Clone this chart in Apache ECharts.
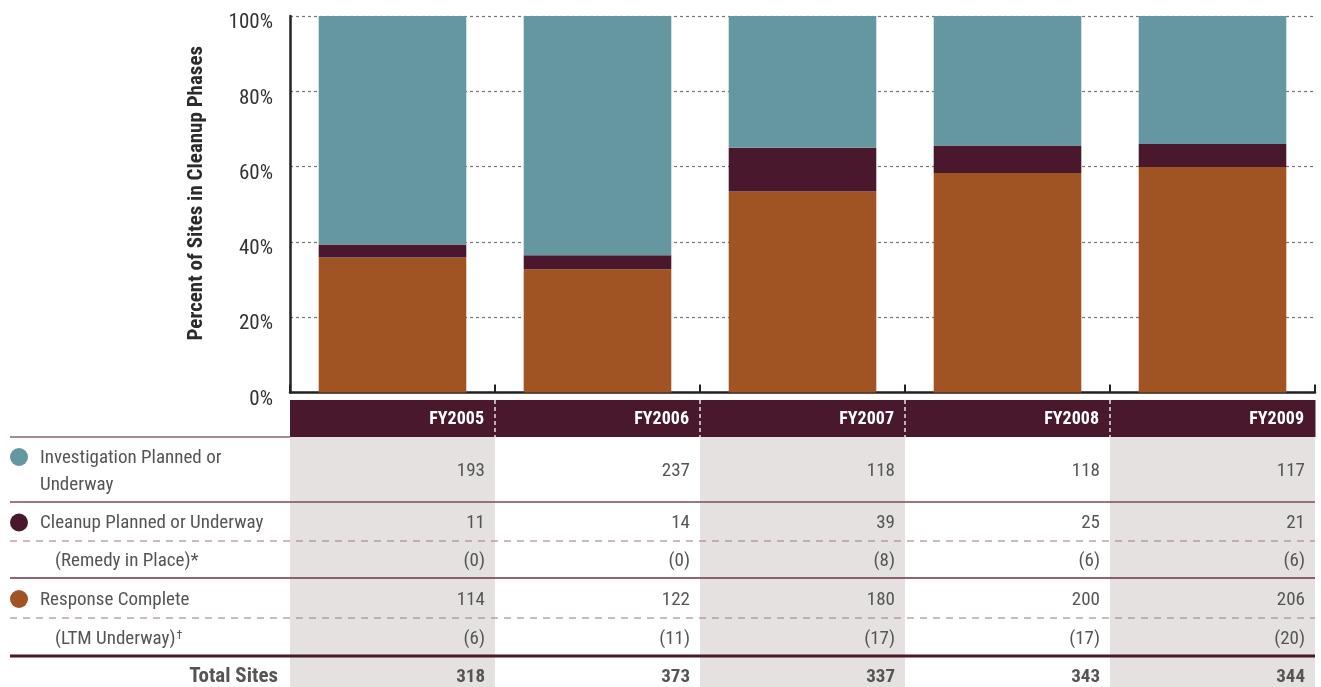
<!DOCTYPE html>
<html>
<head>
<meta charset="utf-8">
<script src="https://cdn.jsdelivr.net/npm/echarts@6/dist/echarts.min.js"></script>
<style>
html,body{margin:0;padding:0;background:#fff;}
#chart{width:1321px;height:687px;}
</style>
</head>
<body>
<div id="chart"></div>
<script>
// ---------- DATA ----------
const years = ['FY2005', 'FY2006', 'FY2007', 'FY2008', 'FY2009'];
const investigation = [193, 237, 118, 118, 117];
const cleanup = [11, 14, 39, 25, 21];
const remedyInPlace = [0, 0, 8, 6, 6];
const responseComplete = [114, 122, 180, 200, 206];
const ltmUnderway = [6, 11, 17, 17, 20];
const totalSites = [318, 373, 337, 343, 344];
const yTicks = [0, 20, 40, 60, 80, 100];
const rowLabels = ['Investigation Planned or\nUnderway', 'Cleanup Planned or Underway', '(Remedy in Place)*', 'Response Complete', '(LTM Underway)', 'Total Sites'];
const seriesNames = ['Response Complete', 'Cleanup Planned or Underway', 'Investigation Planned or Underway'];

// ---------- STYLE / LAYOUT ----------
const FONT = "'Liberation Sans Narrow', 'Roboto Condensed', 'DejaVu Sans Condensed', sans-serif";
const C_TEAL = '#64979F';
const C_MAROON = '#4A182C';
const C_BROWN = '#A05423';
const C_SHADE = '#E5E1E1';
const C_TEXT = '#555555';
const ROW_H = [37, 65, 39, 37, 40, 38, 31]; // header + 6 rows (last row cut by the page edge)
const LAST_ROW_TEXT_SHIFT = 3.5;
const rowStart = [0];
ROW_H.forEach((h, i) => rowStart.push(rowStart[i] + h));
const TABLE_H = rowStart[rowStart.length - 1];

const tableRows = [investigation, cleanup, remedyInPlace, responseComplete, ltmUnderway, totalSites];
const rowKind = ['main', 'main', 'sub', 'main', 'sub', 'total'];
const rowColor = [C_TEAL, C_MAROON, null, C_BROWN, null, null];
const rowSuffix = ['', '', '', '', '\u2020', ''];
const ruleStyle = [
  { stroke: '#A88A95', lineWidth: 2, left: true },
  { stroke: '#7A4B5A', lineWidth: 1.5 },
  { stroke: '#9B7886', lineWidth: 1.2, lineDash: [7, 6] },
  { stroke: '#6A3347', lineWidth: 1.5 },
  { stroke: '#9B7886', lineWidth: 1.2, lineDash: [7, 6] },
  { stroke: C_MAROON, lineWidth: 3 },
  null
];

const pct = (arr) => arr.map((v, i) => v / totalSites[i] * 100);

const cellData = [];
for (let r = 0; r < ROW_H.length; r++) {
  for (let c = 0; c < years.length; c++) cellData.push([c, r]);
}

function cellText(r, c) {
  if (r === 0) return years[c];
  const v = tableRows[r - 1][c];
  return rowKind[r - 1] === 'sub' ? '(' + v + ')' : String(v);
}

const chart = echarts.init(document.getElementById('chart'), null, { renderer: 'canvas' });

const option = {
  animation: false,
  backgroundColor: '#fff',
  grid: [
    { left: 290, right: 6, top: 16, height: 376.5, containLabel: false },
    { left: 290, right: 6, top: 400, height: TABLE_H, containLabel: false }
  ],
  xAxis: [
    {
      type: 'category', gridIndex: 0, data: years,
      axisLine: { show: true, lineStyle: { color: '#222', width: 2.5 } },
      axisTick: { show: true, inside: true, length: 8, lineStyle: { color: '#222', width: 2 } },
      axisLabel: { show: false },
      splitLine: { show: false }
    },
    {
      type: 'category', gridIndex: 1, data: years, show: false
    }
  ],
  yAxis: [
    {
      type: 'value', gridIndex: 0, min: 0, max: 100, interval: 20,
      name: 'Percent of Sites in Cleanup Phases',
      nameLocation: 'middle', nameRotate: 90, nameGap: 83,
      nameTextStyle: { fontFamily: FONT, fontWeight: 'bold', fontSize: 21, color: '#2b2b2b', padding: [0, 0, 0, 22] },
      axisLine: { show: true, lineStyle: { color: '#222', width: 2.5 } },
      axisTick: { show: false },
      axisLabel: {
        fontFamily: FONT, fontSize: 21, color: '#333', margin: 17,
        verticalAlign: 'top', lineHeight: 14,
        customValues: yTicks,
        formatter: (v) => v + '%'
      },
      splitLine: { show: true, lineStyle: { color: '#777', width: 1.2, type: [3, 3] } }
    },
    {
      type: 'value', gridIndex: 1, min: 0, max: TABLE_H, inverse: true, show: false
    }
  ],
  series: [
    {
      name: seriesNames[0], type: 'bar', stack: 'all', xAxisIndex: 0, yAxisIndex: 0,
      barWidth: '72%', itemStyle: { color: C_BROWN }, data: pct(responseComplete)
    },
    {
      name: seriesNames[1], type: 'bar', stack: 'all', xAxisIndex: 0, yAxisIndex: 0,
      barWidth: '72%', itemStyle: { color: C_MAROON }, data: pct(cleanup)
    },
    {
      name: seriesNames[2], type: 'bar', stack: 'all', xAxisIndex: 0, yAxisIndex: 0,
      barWidth: '72%', itemStyle: { color: C_TEAL }, data: pct(investigation)
    },
    {
      type: 'custom', xAxisIndex: 1, yAxisIndex: 1, z: 1, silent: true,
      data: years.map((y, c) => [c]).filter(d => d[0] % 2 === 0),
      renderItem: (params, api) => {
        const c = api.value(0);
        const bw = api.size([1, 0])[0];
        const cx = api.coord([c, 0])[0];
        const top = api.coord([c, rowStart[1]])[1];
        const bot = api.coord([c, TABLE_H])[1];
        return { type: 'rect', shape: { x: cx - bw / 2, y: top, width: bw, height: bot - top }, style: { fill: C_SHADE } };
      }
    },
    {
      type: 'custom', xAxisIndex: 1, yAxisIndex: 1, z: 3, silent: true,
      data: cellData,
      renderItem: (params, api) => {
        const c = api.value(0), r = api.value(1);
        const cs = params.coordSys;
        const bw = api.size([1, 0])[0];
        const cx = api.coord([c, 0])[0];
        const top = api.coord([c, rowStart[r]])[1];
        const bot = api.coord([c, rowStart[r + 1]])[1];
        const cy = (top + bot) / 2 + (r === ROW_H.length - 1 ? LAST_ROW_TEXT_SHIFT : 0);
        const right = cx + bw / 2;
        const children = [];
        if (r === 0) {
          children.push({ type: 'rect', shape: { x: cx - bw / 2, y: top, width: bw + 0.5, height: bot - top }, style: { fill: C_MAROON } });
          if (c < years.length - 1) {
            children.push({ type: 'line', shape: { x1: right, y1: top, x2: right, y2: bot }, style: { stroke: '#fff', lineWidth: 1.3, lineDash: [4, 3] }, z2: 2 });
          }
          children.push({ type: 'text', x: right - 11, y: cy + 1, style: { text: cellText(r, c), fill: '#fff', font: 'bold 18px ' + FONT, align: 'right', verticalAlign: 'middle' }, z2: 3 });
        } else {
          const bold = rowKind[r - 1] === 'total';
          children.push({ type: 'text', x: right - 10, y: cy + 2, style: { text: cellText(r, c), fill: C_TEXT, font: (bold ? 'bold ' : '') + '19px ' + FONT, align: 'right', verticalAlign: 'middle' }, z2: 3 });
        }
        if (c === 0) {
          const rs = ruleStyle[r];
          if (rs) {
            const x1 = cs.x - 280;
            const x2 = rs.left ? cs.x : cs.x + cs.width;
            children.push({ type: 'line', shape: { x1: x1, y1: bot, x2: x2, y2: bot }, style: { stroke: rs.stroke, lineWidth: rs.lineWidth, lineDash: rs.lineDash || null }, z2: 1 });
          }
          if (r > 0) {
            const kind = rowKind[r - 1];
            const label = rowLabels[r - 1];
            const nLines = label.split('\n').length;
            const lh = 27;
            const firstY = cy - (nLines - 1) * lh / 2 + 2;
            if (rowColor[r - 1]) {
              children.push({ type: 'circle', shape: { cx: cs.x - 271, cy: firstY - 1, r: 9 }, style: { fill: rowColor[r - 1] } });
            }
            if (kind === 'total') {
              children.push({ type: 'text', x: cs.x - 12, y: cy + 2, style: { text: label, fill: C_TEXT, font: 'bold 21px ' + FONT, align: 'right', verticalAlign: 'middle' } });
            } else {
              const lx = kind === 'sub' ? cs.x - 235 : cs.x - 250;
              const suffix = rowSuffix[r - 1];
              if (suffix) {
                children.push({ type: 'text', x: lx, y: cy + 2, style: {
                  text: '{a|' + label + '}{s|' + suffix + '}',
                  rich: {
                    a: { font: '19px ' + FONT, fill: C_TEXT, verticalAlign: 'middle' },
                    s: { font: '12px ' + FONT, fill: C_TEXT, verticalAlign: 'top', padding: [0, 0, 0, 1] }
                  },
                  align: 'left', verticalAlign: 'middle' } });
              } else {
                children.push({ type: 'text', x: lx, y: cy + 2, style: { text: label, fill: C_TEXT, font: '19px ' + FONT, align: 'left', verticalAlign: 'middle', lineHeight: lh } });
              }
            }
          }
        }
        return { type: 'group', children: children };
      }
    }
  ]
};
chart.setOption(option);
</script>
</body>
</html>
